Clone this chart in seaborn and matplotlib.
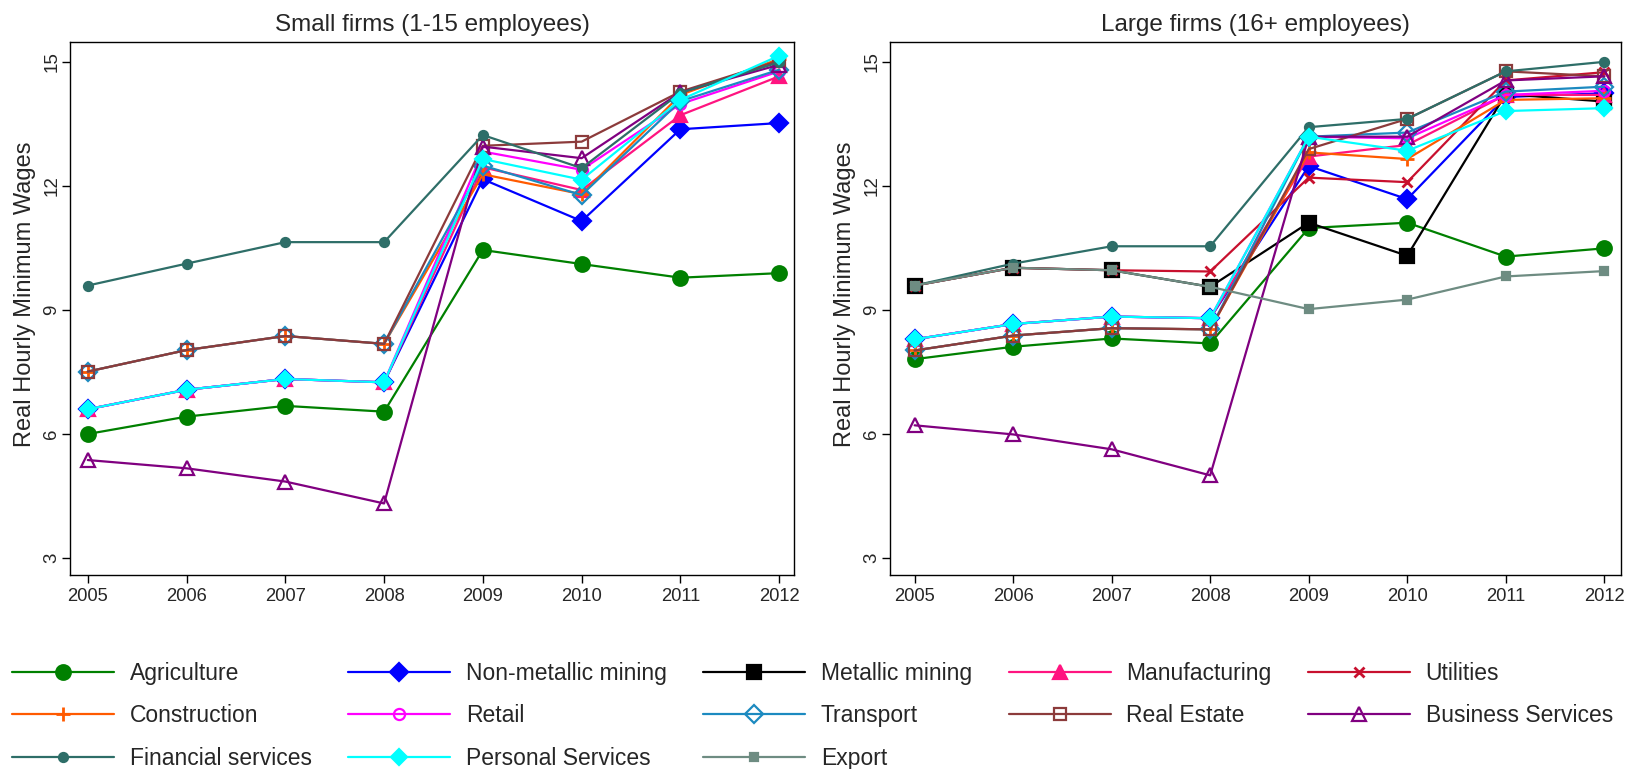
import matplotlib
matplotlib.use("Agg")
import matplotlib.pyplot as plt
import numpy as np
import pandas as pd
import seaborn as sns

# ---------------- data ----------------
years = [2005, 2006, 2007, 2008, 2009, 2010, 2011, 2012]
sectors = ["Agriculture", "Non-metallic mining", "Metallic mining", "Manufacturing",
           "Utilities", "Construction", "Retail", "Transport", "Real Estate",
           "Business Services", "Financial services", "Personal Services", "Export"]
panel_titles = ["Small firms (1-15 employees)", "Large firms (16+ employees)"]
y_ticks = [3, 6, 9, 12, 15]

small_agriculture = [6.00, 6.42, 6.68, 6.54, 10.45, 10.11, 9.78, 9.89]
small_nonmetallic = [6.60, 7.07, 7.33, 7.25, 12.16, 11.15, 13.37, 13.52]
small_manufacturing = [6.60, 7.07, 7.33, 7.25, 12.45, 11.90, 13.71, 14.65]
small_construction = [7.51, 8.03, 8.37, 8.18, 12.28, 11.80, 14.20, 15.07]
small_retail = [6.60, 7.07, 7.33, 7.25, 12.83, 12.39, 13.98, 14.77]
small_transport = [7.51, 8.03, 8.37, 8.18, 12.49, 11.78, 14.05, 14.81]
small_realestate = [7.51, 8.03, 8.37, 8.18, 12.97, 13.07, 14.28, 15.03]
small_business = [5.37, 5.17, 4.85, 4.32, 12.95, 12.67, 14.26, 14.93]
small_financial = [9.59, 10.12, 10.64, 10.64, 13.23, 12.43, 14.25, 14.99]
small_personal = [6.60, 7.07, 7.33, 7.25, 12.65, 12.15, 14.08, 15.15]

large_agriculture = [7.81, 8.11, 8.31, 8.19, 10.98, 11.11, 10.29, 10.49]
large_nonmetallic = [8.29, 8.66, 8.84, 8.80, 12.48, 11.68, 14.15, 14.24]
large_metallic = [9.59, 10.02, 9.96, 9.56, 11.11, 10.31, 14.22, 14.04]
large_manufacturing = [8.29, 8.66, 8.84, 8.80, 12.71, 12.99, 14.20, 14.20]
large_utilities = [9.59, 10.02, 9.96, 9.93, 12.20, 12.09, 14.55, 14.75]
large_construction = [8.02, 8.38, 8.56, 8.53, 12.81, 12.65, 14.08, 14.12]
large_retail = [8.29, 8.66, 8.84, 8.80, 13.19, 13.15, 14.20, 14.30]
large_transport = [8.02, 8.38, 8.56, 8.53, 13.19, 13.29, 14.28, 14.40]
large_realestate = [8.02, 8.38, 8.56, 8.53, 12.89, 13.62, 14.77, 14.65]
large_business = [6.21, 5.99, 5.63, 5.00, 13.19, 13.19, 14.55, 14.65]
large_financial = [9.59, 10.12, 10.54, 10.54, 13.42, 13.62, 14.77, 15.00]
large_personal = [8.29, 8.66, 8.84, 8.80, 13.19, 12.85, 13.81, 13.88]
large_export = [9.59, 10.02, 9.96, 9.56, 9.02, 9.25, 9.81, 9.94]

small = {
    "Agriculture": small_agriculture, "Non-metallic mining": small_nonmetallic,
    "Manufacturing": small_manufacturing, "Construction": small_construction,
    "Retail": small_retail, "Transport": small_transport, "Real Estate": small_realestate,
    "Business Services": small_business, "Financial services": small_financial,
    "Personal Services": small_personal,
}
large = {
    "Agriculture": large_agriculture, "Non-metallic mining": large_nonmetallic,
    "Metallic mining": large_metallic, "Manufacturing": large_manufacturing,
    "Utilities": large_utilities, "Construction": large_construction,
    "Retail": large_retail, "Transport": large_transport, "Real Estate": large_realestate,
    "Business Services": large_business, "Financial services": large_financial,
    "Personal Services": large_personal, "Export": large_export,
}

rows = []
for panel, d in zip(panel_titles, [small, large]):
    for s, vals in d.items():
        for y, v in zip(years, vals):
            rows.append({"panel": panel, "sector": s, "year": y, "wage": v})
df = pd.DataFrame(rows)

# ---------------- style ----------------
style = {
    "Agriculture": dict(color="#008000", marker="o", ms=10.5, fill=True),
    "Non-metallic mining": dict(color="#0000FF", marker="D", ms=9.5, fill=True),
    "Metallic mining": dict(color="#000000", marker="s", ms=9.5, fill=True),
    "Manufacturing": dict(color="#FF1480", marker="^", ms=10, fill=True),
    "Utilities": dict(color="#C8102E", marker="x", ms=7, fill=True),
    "Construction": dict(color="#FF5A00", marker="+", ms=10, fill=True),
    "Retail": dict(color="#FF00FF", marker="o", ms=8, fill=False),
    "Transport": dict(color="#1C8AC0", marker="D", ms=9, fill=False),
    "Real Estate": dict(color="#8C3B3B", marker="s", ms=8.5, fill=False),
    "Business Services": dict(color="#800080", marker="^", ms=9.5, fill=False),
    "Financial services": dict(color="#2E6E68", marker="o", ms=6.5, fill=True),
    "Personal Services": dict(color="#00FFFF", marker="D", ms=8, fill=True),
    "Export": dict(color="#6E8C82", marker="s", ms=6, fill=True),
}

sns.set_style("ticks")
plt.rcParams["font.family"] = ["Liberation Sans", "DejaVu Sans"]

fig = plt.figure(figsize=(16.33, 7.69), dpi=100)
ax_pos = [[70 / 1633, 1 - 575 / 769, 724 / 1633, 533 / 769],
          [890 / 1633, 1 - 575 / 769, 731 / 1633, 533 / 769]]
xlims = [(2004.82, 2012.15), (2004.75, 2012.17)]

axes = []
for i, panel in enumerate(panel_titles):
    ax = fig.add_axes(ax_pos[i])
    axes.append(ax)
    sub = df[df["panel"] == panel]
    for s in sectors:
        ss = sub[sub["sector"] == s]
        if ss.empty:
            continue
        st = style[s]
        fc = st["color"] if st["fill"] else "none"
        mew = 2.0 if st["marker"] in ("x", "+") else 1.6
        sns.lineplot(data=ss, x="year", y="wage", ax=ax, color=st["color"],
                     linewidth=1.6, marker=st["marker"], markersize=st["ms"],
                     markerfacecolor=fc, markeredgecolor=st["color"],
                     markeredgewidth=mew, label=s, errorbar=None, legend=False)
    ax.set_xlim(*xlims[i])
    ax.set_ylim(2.59, 15.48)
    ax.set_xticks(years)
    ax.set_xticklabels([str(y) for y in years], fontsize=13.2)
    ax.set_yticks(y_ticks)
    ax.set_yticklabels([str(t) for t in y_ticks], fontsize=13.5, rotation=90, va="center")
    ax.tick_params(direction="out", length=6, width=1.0, color="black")
    ax.tick_params(axis="y", pad=1)
    ax.tick_params(axis="x", pad=3.5)
    ax.set_xlabel("")
    ax.set_ylabel("Real Hourly Minimum Wages", fontsize=17, labelpad=5)
    ax.yaxis.label.set_y(0.526)
    ax.set_title(panel, fontsize=17.5, pad=8)
    for sp in ax.spines.values():
        sp.set_visible(True)
        sp.set_color("black")
        sp.set_linewidth(1.0)
    if ax.get_legend() is not None:
        ax.get_legend().remove()

handles, labels = axes[1].get_legend_handles_labels()
hmap = dict(zip(labels, handles))
col_order = ["Agriculture", "Construction", "Financial services",
             "Non-metallic mining", "Retail", "Personal Services",
             "Metallic mining", "Transport", "Export",
             "Manufacturing", "Real Estate",
             "Utilities", "Business Services"]
leg = fig.legend([hmap[l] for l in col_order], col_order, ncol=5,
                 loc="upper left", bbox_to_anchor=(12 / 1633, 1 - 662 / 769),
                 frameon=False, fontsize=16.5, handlelength=4.45, handletextpad=0.68,
                 columnspacing=1.6, labelspacing=0.85, borderpad=0, borderaxespad=0)

fig.savefig("out.png", dpi=100)
